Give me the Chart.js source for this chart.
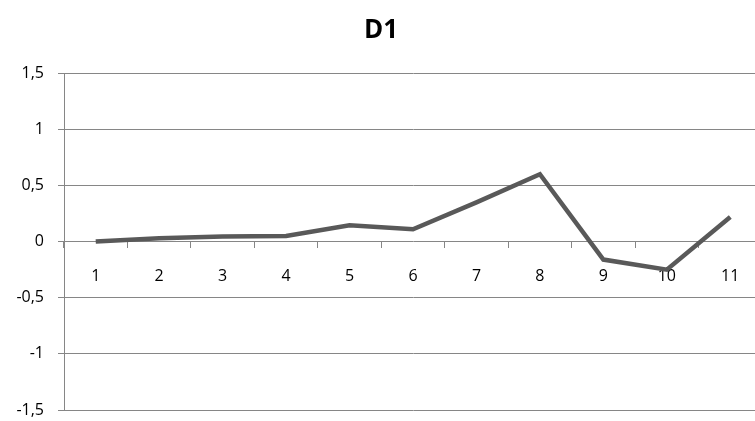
<!DOCTYPE html>
<html>
<head>
<meta charset="utf-8">
<script src="https://cdn.jsdelivr.net/npm/chart.js@4.4.1/dist/chart.umd.min.js"></script>
<style>
  html, body { margin: 0; padding: 0; background: #fff; overflow: hidden; }
  #wrap { width: 772px; height: 421px; }
</style>
</head>
<body>
<div id="wrap"><canvas id="myChart" width="772" height="421"></canvas></div>
<script>
const title = 'D1';
const labels = ['1', '2', '3', '4', '5', '6', '7', '8', '9', '10', '11'];
const values = [0, 0.03, 0.045, 0.05, 0.145, 0.11, 0.35, 0.6, -0.16, -0.25, 0.22];
const yTicks = [-1.5, -1, -0.5, 0, 0.5, 1, 1.5];

const gridColor = '#868686';
const font = { family: 'Open Sans', size: 16 };

const ctx = document.getElementById('myChart').getContext('2d');
const myChart = new Chart(ctx, {
    type: 'line',
    data: {
        labels: labels,
        datasets: [{
            label: title,
            data: values,
            borderColor: '#595959',
            borderWidth: 4.5,
            pointRadius: 0,
            tension: 0,
            fill: false
        }]
    },
    options: {
        responsive: false,
        animation: false,
        layout: { padding: { left: 0, right: 10, bottom: 11, top: 0 } },
        plugins: {
            legend: { display: false },
            tooltip: { enabled: false },
            title: {
                display: true,
                text: title,
                color: '#000',
                font: { family: 'Open Sans', size: 26, weight: 'bold' },
                padding: { top: 15, bottom: 27 }
            }
        },
        scales: {
            x: {
                position: { y: 0 },
                offset: true,
                afterFit: (scale) => {
                    scale.height = 0;
                    scale.paddingLeft = 0;
                    scale.paddingRight = 0;
                },
                grid: {
                    offset: true,
                    drawOnChartArea: false,
                    drawTicks: true,
                    tickLength: 6,
                    color: gridColor
                },
                border: { display: false },
                ticks: {
                    color: '#000',
                    font: font,
                    padding: 19,
                    maxRotation: 0
                }
            },
            y: {
                min: -1.5,
                max: 1.5,
                afterBuildTicks: (scale) => {
                    scale.ticks = yTicks.map(v => ({ value: v }));
                },
                afterFit: (scale) => {
                    scale.width = 64;
                    scale.paddingTop = 0;
                    scale.paddingBottom = 0;
                },
                grid: {
                    color: gridColor,
                    lineWidth: 1,
                    tickLength: 6
                },
                border: { color: gridColor, width: 1 },
                ticks: {
                    color: '#000',
                    font: font,
                    padding: 14,
                    callback: (v) => String(v).replace('.', ',')
                }
            }
        }
    }
});
</script>
</body>
</html>
